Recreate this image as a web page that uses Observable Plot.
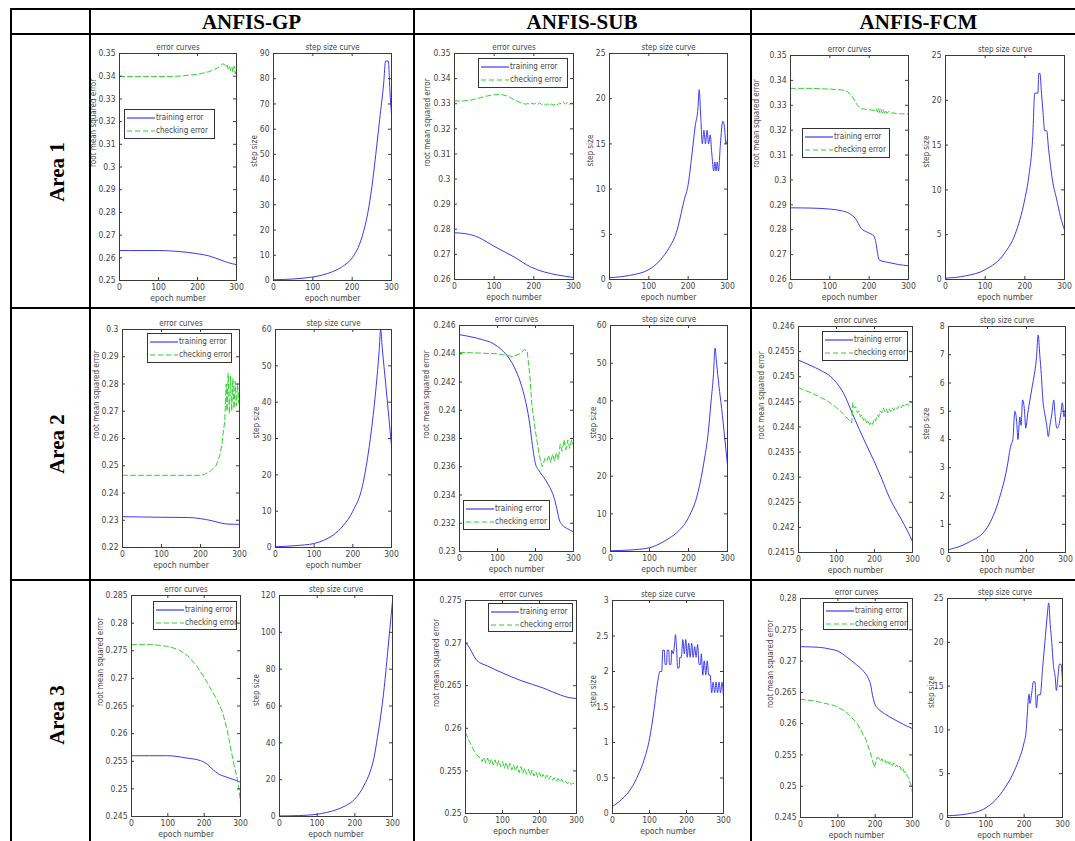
<!DOCTYPE html>
<html><head><meta charset="utf-8">
<script src="https://cdn.jsdelivr.net/npm/d3@7"></script>
<script src="https://cdn.jsdelivr.net/npm/@observablehq/plot@0.6"></script>
<style>
body{margin:0;background:#fff;}
#page{position:relative;width:1075px;height:841px;overflow:hidden;background:#fff;}
.hl{position:absolute;height:2px;background:#000;}
.vl{position:absolute;width:2px;background:#000;}
.hdr{position:absolute;font:bold 21px "Liberation Serif","Times New Roman",serif;text-align:center;color:#000;height:24px;line-height:24px;}
.area{position:absolute;width:100px;height:24px;line-height:24px;text-align:center;font:bold 21px "Liberation Serif","Times New Roman",serif;transform:rotate(-90deg);color:#000;}
.leg{position:absolute;box-sizing:border-box;border:1px solid #333;background:#fff;font:8px "Liberation Sans Narrow","DejaVu Sans Condensed","Liberation Sans",Arial,sans-serif;color:#444;}
.leg .row{position:absolute;left:2px;height:10px;line-height:10px;white-space:nowrap;}
.leg svg{vertical-align:middle;margin-right:1px;}
</style>
</head><body><div id="page"></div>
<script>
// ---------- labels ----------
const methods = ["ANFIS-GP", "ANFIS-SUB", "ANFIS-FCM"];
const areas = ["Area 1", "Area 2", "Area 3"];
const seriesNames = ["training error", "checking error"];
const errTitle = "error curves", stepTitle = "step size curve";
const xLabel = "epoch number", errYLabel = "root mean squared error", stepYLabel = "step size";
const epochTicks = [0, 100, 200, 300];

// ---------- Area 1 / ANFIS-GP ----------
const gp1TrainEp = [0,50,100,150,200,230,260,280,300];
const gp1Train = [0.2632,0.2632,0.2632,0.2628,0.2618,0.2608,0.2590,0.2578,0.2570];
const gp1CheckEp = [0,50,100,150,200,230,250,265,270,273,276,279,282,285,288,291,294,297,300];
const gp1Check = [0.3399,0.3398,0.3398,0.3400,0.3408,0.3420,0.3435,0.3455,0.3450,0.3440,0.3448,0.3430,0.3442,0.3425,0.3440,0.3418,0.3445,0.3410,0.3440];
const gp1StepEp = [0,50,100,125,150,175,200,215,230,240,250,260,270,280,285,292,296,300];
const gp1Step = [0.3,0.6,1.4,2.2,3.5,5.5,9,13,20,27,37,50,64,78,87,87,75,66];
const gp1ErrTicks = [0.25,0.26,0.27,0.28,0.29,0.3,0.31,0.32,0.33,0.34,0.35];
const gp1StepTicks = [0,10,20,30,40,50,60,70,80,90];

// ---------- Area 1 / ANFIS-SUB ----------
const sub1TrainEp = [0,30,60,100,150,192,226,260,300];
const sub1Train = [0.2786,0.2782,0.2768,0.2732,0.2690,0.2650,0.2630,0.2618,0.2608];
const sub1CheckEp = [0,20,40,60,80,100,120,135,150,165,180,185,190,195,200,205,210,215,220,225,230,235,240,245,250,255,260,265,270,275,280,285,290,295,300];
const sub1Check = [0.3311,0.3311,0.3314,0.3322,0.3330,0.3336,0.3336,0.3330,0.3316,0.3305,0.3298,0.3301,0.3297,0.3302,0.3298,0.3303,0.3298,0.3303,0.3296,0.3301,0.3294,0.3300,0.3293,0.3299,0.3294,0.3301,0.3296,0.3303,0.3298,0.3305,0.3299,0.3305,0.3298,0.3303,0.3298];
const sub1StepEp = [0,50,100,130,150,170,190,200,210,218,225,228,232,236,240,244,248,252,256,260,265,268,271,274,277,282,288,292,296,300];
const sub1Step = [0.2,0.45,1.1,2.2,3.4,5.2,8.8,10.5,14,17,19,21,18,15,16.5,15,16.5,15,16,14,12,13,12,13,12,15,17.5,17,15,15.5];
const sub1ErrTicks = [0.26,0.27,0.28,0.29,0.3,0.31,0.32,0.33,0.34,0.35];
const sub1StepTicks = [0,5,10,15,20,25];

// ---------- Area 1 / ANFIS-FCM ----------
const fcm1TrainEp = [0,50,100,130,150,165,180,195,212,218,222,226,250,275,300];
const fcm1Train = [0.2888,0.2887,0.2883,0.2876,0.2865,0.2845,0.2805,0.2790,0.2775,0.2740,0.2700,0.2678,0.2668,0.2660,0.2655];
const fcm1CheckEp = [0,50,100,130,145,157,168,178,190,200,210,215,218,221,224,227,230,233,236,239,242,245,250,255,260,270,280,290,300];
const fcm1Check = [0.3368,0.3368,0.3365,0.3362,0.3355,0.3335,0.3305,0.3287,0.3284,0.3282,0.3280,0.3278,0.3286,0.3272,0.3288,0.3270,0.3285,0.3269,0.3282,0.3268,0.3280,0.3268,0.3275,0.3267,0.3270,0.3266,0.3266,0.3265,0.3265];
const fcm1StepEp = [0,50,100,150,175,200,210,220,225,233,235,238,242,246,250,255,260,270,280,290,300];
const fcm1Step = [0.15,0.4,1.1,3.0,5.0,9.0,11.5,16,20.8,20.8,23,23,20.8,18.6,16.6,16.6,14.5,11,9,7,5.5];
const fcm1ErrTicks = [0.26,0.27,0.28,0.29,0.3,0.31,0.32,0.33,0.34,0.35];
const fcm1StepTicks = [0,5,10,15,20,25];

// ---------- Area 2 / ANFIS-GP ----------
const gp2TrainEp = [0,100,170,200,230,255,270,300];
const gp2Train = [0.2313,0.2311,0.2310,0.2306,0.2298,0.2289,0.2286,0.2285];
const gp2CheckEp = [0,100,200,210,225,240,250,255,258,262,266,268,271,274,277,280,283,286,289,292,295,298,300];
const gp2Check = [0.2465,0.2465,0.2465,0.2468,0.2480,0.2500,0.2540,0.2580,0.2620,0.2660,0.2800,0.2700,0.2840,0.2690,0.2830,0.2700,0.2820,0.2710,0.2810,0.2720,0.2800,0.2730,0.2790];
const gp2StepEp = [0,50,100,125,150,175,200,225,240,250,260,268,272,276,285,293,300];
const gp2Step = [0.2,0.5,1.1,2.0,3.5,6,10,17,26,34,44,54,60,55,45,36,28];
const gp2ErrTicks = [0.22,0.23,0.24,0.25,0.26,0.27,0.28,0.29,0.3];
const gp2StepTicks = [0,10,20,30,40,50,60];

// ---------- Area 2 / ANFIS-SUB ----------
const sub2TrainEp = [0,30,60,90,110,130,145,160,175,185,192,200,210,230,250,258,262,270,285,300];
const sub2Train = [0.24535,0.2452,0.2450,0.2447,0.2443,0.2437,0.2430,0.2420,0.2405,0.2390,0.2375,0.2362,0.2357,0.2349,0.2337,0.2328,0.2323,0.2319,0.2316,0.2314];
const sub2CheckEp = [0,100,140,160,170,178,185,190,200,210,218,225,230,235,240,245,250,255,260,265,270,275,280,285,290,295,300];
const sub2Check = [0.2441,0.2440,0.2438,0.2440,0.2443,0.2442,0.2425,0.2405,0.2385,0.2368,0.2360,0.2366,0.2364,0.2368,0.2363,0.2369,0.2364,0.2370,0.2365,0.2376,0.2371,0.2379,0.2372,0.2379,0.2373,0.2379,0.2375];
const sub2StepEp = [0,50,100,125,150,175,200,225,240,250,258,264,268,272,278,285,293,300];
const sub2Step = [0.2,0.4,1.0,2.0,3.5,5.5,9,16,24,31,40,47,54,50,44,38,30,23];
const sub2ErrTicks = [0.23,0.232,0.234,0.236,0.238,0.24,0.242,0.244,0.246];
const sub2StepTicks = [0,10,20,30,40,50,60];

// ---------- Area 2 / ANFIS-FCM ----------
const fcm2TrainEp = [0,30,60,85,100,120,140,160,180,200,220,240,260,280,300];
const fcm2Train = [0.24533,0.24523,0.24512,0.24500,0.24488,0.24465,0.24430,0.24395,0.24362,0.24330,0.24295,0.24258,0.24230,0.24203,0.24172];
const fcm2CheckEp = [0,40,80,110,140,143,147,151,155,159,163,167,171,175,179,183,187,191,195,199,203,207,211,215,219,223,227,231,235,239,243,247,251,255,260,265,270,275,280,285,290,295,300];
const fcm2Check = [0.24478,0.24466,0.24450,0.24432,0.24408,0.24448,0.24438,0.24440,0.24428,0.24432,0.24420,0.24424,0.24413,0.24418,0.24408,0.24413,0.24404,0.24410,0.24405,0.24416,0.24412,0.24424,0.24420,0.24432,0.24428,0.24438,0.24430,0.24436,0.24428,0.24436,0.24430,0.24438,0.24433,0.24440,0.24436,0.24442,0.24438,0.24444,0.24440,0.24446,0.24443,0.24449,0.24448];
const fcm2StepEp = [0,50,100,130,150,160,165,170,175,178,183,186,190,195,198,203,210,215,220,225,230,234,238,242,247,252,256,260,265,270,273,278,283,288,292,296,300];
const fcm2Step = [0.1,0.35,0.9,1.9,3.0,3.8,4.0,5.0,4.6,4.0,4.8,4.5,5.4,5.0,4.4,4.9,5.5,5.9,6.3,6.8,7.7,7.0,6.3,5.4,4.9,4.5,4.1,4.5,4.9,5.4,4.9,4.4,4.5,4.9,5.3,4.8,5.1];
const fcm2ErrTicks = [0.2415,0.242,0.2425,0.243,0.2435,0.244,0.2445,0.245,0.2455,0.246];
const fcm2StepTicks = [0,1,2,3,4,5,6,7,8];

// ---------- Area 3 / ANFIS-GP ----------
const gp3TrainEp = [0,100,150,190,210,222,240,263,285,300];
const gp3Train = [0.2560,0.2560,0.2556,0.2551,0.2544,0.2536,0.2527,0.2521,0.2516,0.2512];
const gp3CheckEp = [0,60,100,130,155,180,208,236,250,263,277,285,291,296,300];
const gp3Check = [0.2761,0.2761,0.2758,0.2752,0.2741,0.2722,0.2693,0.2660,0.2640,0.2608,0.2560,0.2535,0.2518,0.2500,0.2475];
const gp3StepEp = [0,50,100,125,150,175,200,225,240,251,260,269,278,287,294,300];
const gp3Step = [0.3,0.5,1.2,2.2,3.6,5.8,9.5,17,24,32,43,55,70,89,104,117];
const gp3ErrTicks = [0.245,0.25,0.255,0.26,0.265,0.27,0.275,0.28,0.285];
const gp3StepTicks = [0,20,40,60,80,100,120];

// ---------- Area 3 / ANFIS-SUB ----------
const sub3TrainEp = [0,10,30,60,100,150,212,257,280,300];
const sub3Train = [0.2701,0.2695,0.2680,0.2673,0.2665,0.2656,0.2647,0.2639,0.2636,0.2635];
const sub3CheckEp = [0,10,20,30,40,45,50,55,60,65,70,75,80,85,90,95,100,105,110,115,120,125,130,135,140,145,150,155,160,165,170,175,180,185,190,195,200,205,210,215,220,225,230,235,240,245,250,255,260,265,270,275,280,285,290,295,300];
const sub3Check = [0.2595,0.2585,0.2576,0.2569,0.2565,0.2561,0.2566,0.2559,0.2565,0.2558,0.2564,0.2557,0.2563,0.2556,0.2562,0.2555,0.2561,0.2553,0.2560,0.2552,0.2559,0.2551,0.2557,0.2550,0.2556,0.2548,0.2555,0.2547,0.2553,0.2546,0.2552,0.2545,0.2551,0.2544,0.2549,0.2543,0.2548,0.2542,0.2546,0.2541,0.2545,0.2540,0.2544,0.2539,0.2542,0.2538,0.2541,0.2537,0.2540,0.2536,0.2538,0.2535,0.2537,0.2534,0.2536,0.2534,0.2535];
const sub3StepEp = [0,25,50,70,85,100,112,122,128,133,136,140,142,146,148,152,154,158,160,164,168,170,173,176,180,182,186,190,194,198,202,206,210,214,218,222,226,230,234,238,240,244,248,252,256,260,264,268,272,276,280,284,288,292,296,300];
const sub3Step = [0.1,0.2,0.35,0.55,0.75,1.05,1.45,1.85,2.0,2.0,2.3,2.3,2.1,2.1,2.3,2.3,2.1,2.1,2.3,2.25,2.4,2.52,2.35,2.05,2.05,2.2,2.2,2.45,2.25,2.45,2.2,2.4,2.2,2.4,2.2,2.35,2.2,2.38,2.1,2.1,2.25,1.95,2.15,1.95,2.15,1.95,1.95,1.7,1.85,1.7,1.85,1.7,1.85,1.7,1.85,1.65];
const sub3ErrTicks = [0.25,0.255,0.26,0.265,0.27,0.275];
const sub3StepTicks = [0,0.5,1,1.5,2,2.5,3];

// ---------- Area 3 / ANFIS-FCM ----------
const fcm3TrainEp = [0,50,80,100,125,150,170,182,188,193,200,206,225,250,275,300];
const fcm3Train = [0.2723,0.2722,0.2719,0.2716,0.2706,0.2694,0.2683,0.2672,0.2662,0.2645,0.2630,0.2625,0.2616,0.2607,0.2599,0.2592];
const fcm3CheckEp = [0,40,90,120,150,175,190,198,205,210,214,218,222,226,230,234,238,242,246,250,254,258,262,266,270,274,278,282,286,290,294,297,300];
const fcm3Check = [0.2639,0.2636,0.2629,0.2620,0.2602,0.2575,0.2548,0.2530,0.2546,0.2545,0.2540,0.2544,0.2539,0.2542,0.2537,0.2541,0.2535,0.2539,0.2533,0.2537,0.2531,0.2534,0.2529,0.2532,0.2526,0.2529,0.2522,0.2523,0.2516,0.2514,0.2504,0.2501,0.2489];
const fcm3StepEp = [0,50,100,150,175,200,204,213,215,220,224,228,232,236,242,248,254,260,264,268,272,276,281,284,288,292,296,300];
const fcm3Step = [0.2,0.4,1.1,3.4,5.4,8.6,9.4,14.1,13,14.3,15.5,15.5,12.5,14,14,17,20,23,24.5,22,20,17.5,16,14.5,16,17.5,17.5,15.5];
const fcm3ErrTicks = [0.245,0.25,0.255,0.26,0.265,0.27,0.275,0.28];
const fcm3StepTicks = [0,5,10,15,20,25];

// ---------- styling / layout ----------
const TRAIN_COLOR = "#3a3af2", CHECK_COLOR = "#2fd22f", STEP_COLOR = "#3a3af2";
const CHECK_DASH = "5,3";
const FONT = '"Liberation Sans Narrow","DejaVu Sans Condensed","Liberation Sans",Arial,sans-serif';

const cells = [
  {err:[119,53,236,280], step:[273,53,391,280], leg:[124,109,215,139], eOff:26.5, sOff:19.5,
   train:[gp1TrainEp,gp1Train], check:[gp1CheckEp,gp1Check], st:[gp1StepEp,gp1Step], eT:gp1ErrTicks, sT:gp1StepTicks},
  {err:[454,53,573,279], step:[609,53,727,279], leg:[478,58,568,88], eOff:27, sOff:19.5,
   train:[sub1TrainEp,sub1Train], check:[sub1CheckEp,sub1Check], st:[sub1StepEp,sub1Step], eT:sub1ErrTicks, sT:sub1StepTicks},
  {err:[790,55,908,279], step:[945,55,1064,279], leg:[802,128,890,158], eOff:34, sOff:19.5,
   train:[fcm1TrainEp,fcm1Train], check:[fcm1CheckEp,fcm1Check], st:[fcm1StepEp,fcm1Step], eT:fcm1ErrTicks, sT:fcm1StepTicks},
  {err:[122,329,239,547], step:[275,329,391,547], leg:[147,333,232,363], eOff:26.5, sOff:19.5,
   train:[gp2TrainEp,gp2Train], check:[gp2CheckEp,gp2Check], st:[gp2StepEp,gp2Step], eT:gp2ErrTicks, sT:gp2StepTicks},
  {err:[459,325,573,551], step:[610,325,727,551], leg:[463,500,550,530], eOff:33, sOff:17.5,
   train:[sub2TrainEp,sub2Train], check:[sub2CheckEp,sub2Check], st:[sub2StepEp,sub2Step], eT:sub2ErrTicks, sT:sub2StepTicks},
  {err:[798,326,912,552], step:[948,326,1065,552], leg:[822,331,908,361], eOff:37, sOff:22,
   train:[fcm2TrainEp,fcm2Train], check:[fcm2CheckEp,fcm2Check], st:[fcm2StepEp,fcm2Step], eT:fcm2ErrTicks, sT:fcm2StepTicks},
  {err:[131,595,240,816], step:[279,595,392,816], leg:[153,601,237,630], eOff:31, sOff:23.5,
   train:[gp3TrainEp,gp3Train], check:[gp3CheckEp,gp3Check], st:[gp3StepEp,gp3Step], eT:gp3ErrTicks, sT:gp3StepTicks},
  {err:[465,600,576,813], step:[612,600,723,813], leg:[488,603,573,632], eOff:29.5, sOff:19.5,
   train:[sub3TrainEp,sub3Train], check:[sub3CheckEp,sub3Check], st:[sub3StepEp,sub3Step], eT:sub3ErrTicks, sT:sub3StepTicks},
  {err:[800,598,912,817], step:[947,598,1062,817], leg:[823,602,908,630], eOff:30.5, sOff:16,
   train:[fcm3TrainEp,fcm3Train], check:[fcm3CheckEp,fcm3Check], st:[fcm3StepEp,fcm3Step], eT:fcm3ErrTicks, sT:fcm3StepTicks}
];

const page = document.getElementById("page");
function el(cls, css, text) {
  const d = document.createElement("div");
  d.className = cls; Object.assign(d.style, css);
  if (text) d.textContent = text;
  page.appendChild(d); return d;
}

// table grid
const colX = [10, 89, 413, 750];
const rowY = [8, 33, 307, 579];
rowY.forEach(y => el("hl", {left:"10px", top:y+"px", width:"1080px"}));
colX.forEach(x => el("vl", {left:x+"px", top:"8px", height:"840px"}));
const colEdges = [[90,413],[414,750],[751,1086]];
methods.forEach((m,i) => el("hdr", {left:colEdges[i][0]+"px", width:(colEdges[i][1]-colEdges[i][0])+"px", top:"10px"}, m));
const areaCY = [172, 444, 715];
areas.forEach((a,i) => el("area", {left:(57-50)+"px", top:(areaCY[i]-12)+"px"}, a));

const pts = (xs, ys) => xs.map((x,i) => ({x, y: ys[i]}));
const fmt = d => String(+d.toFixed(4));

function subplot(box, yTicks, series, title, ylabel, ylabOff) {
  const [L,T,R,B] = box;
  const ML = 50, MT = 20, MR = 10, MB = 30;
  const w = R-L, h = B-T;
  const inner = epochTicks.slice(1,-1), yin = yTicks.slice(1,-1);
  const tc = "#3a3a3a";
  const p = Plot.plot({
    width: w+ML+MR, height: h+MT+MB,
    marginLeft: ML, marginTop: MT, marginRight: MR, marginBottom: MB,
    style: {fontFamily: FONT, fontSize: "8.5px", color: "#444", background: "transparent", overflow: "visible"},
    x: {domain: [0,300]},
    y: {domain: [yTicks[0], yTicks[yTicks.length-1]]},
    marks: [
      ...series.map(s => Plot.line(pts(s.ep, s.val), {x:"x", y:"y", stroke:s.color, strokeWidth:1, strokeDasharray:s.dash, curve:s.curve, clip:true})),
      Plot.ruleY(yin, {y:d=>d, insetRight:w-3, stroke:tc}),
      Plot.ruleY(yin, {y:d=>d, insetLeft:w-3, stroke:tc}),
      Plot.ruleX(inner, {x:d=>d, insetTop:h-3, stroke:tc}),
      Plot.ruleX(inner, {x:d=>d, insetBottom:h-3, stroke:tc}),
      Plot.frame({stroke:tc, strokeWidth:1}),
      Plot.axisY(yTicks, {tickSize:0, tickPadding:4, tickFormat:fmt, label:null}),
      Plot.axisX(epochTicks, {tickSize:0, tickPadding:3, tickFormat:d=>String(d), label:null}),
      Plot.text([title], {text:d=>d, frameAnchor:"top", dy:-9, fontSize:8}),
      Plot.text([xLabel], {text:d=>d, frameAnchor:"bottom", dy:20, fontSize:8.5}),
      Plot.text([ylabel], {text:d=>d, frameAnchor:"left", dx:-ylabOff, rotate:-90, fontSize:8})
    ]
  });
  p.style.position = "absolute";
  p.style.left = (L-ML)+"px"; p.style.top = (T-MT)+"px";
  page.appendChild(p);
}

function legend(box) {
  const [L,T,R,B] = box;
  const d = el("leg", {left:L+"px", top:T+"px", width:(R-L)+"px", height:(B-T)+"px"});
  const styles = [[TRAIN_COLOR, null], [CHECK_COLOR, CHECK_DASH]];
  seriesNames.forEach((n,i) => {
    const r = document.createElement("div");
    r.className = "row"; r.style.top = (3 + i*13)+"px";
    r.innerHTML = `<svg width="28" height="8"><line x1="0" y1="4" x2="28" y2="4" stroke="${styles[i][0]}" stroke-width="1.2" ${styles[i][1] ? `stroke-dasharray="${styles[i][1]}"` : ""}/></svg><span>${n}</span>`;
    d.appendChild(r);
  });
}

cells.forEach(c => {
  subplot(c.err, c.eT, [
    {ep:c.train[0], val:c.train[1], color:TRAIN_COLOR, dash:null, curve:"monotone-x"},
    {ep:c.check[0], val:c.check[1], color:CHECK_COLOR, dash:CHECK_DASH, curve:"linear"}
  ], errTitle, errYLabel, c.eOff);
  subplot(c.step, c.sT, [{ep:c.st[0], val:c.st[1], color:STEP_COLOR, dash:null, curve:"monotone-x"}], stepTitle, stepYLabel, c.sOff);
  legend(c.leg);
});
</script>
</body></html>
